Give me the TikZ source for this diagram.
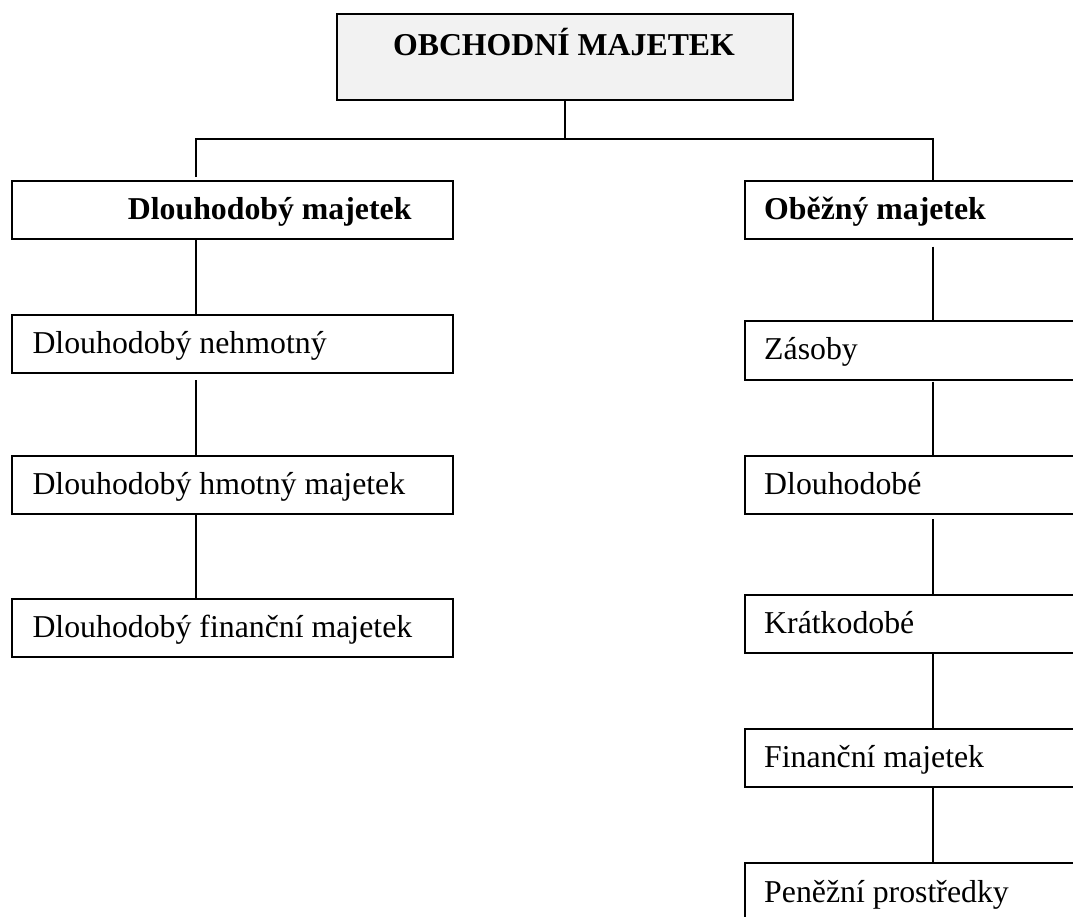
\documentclass[tikz,border=0pt]{standalone}
\usepackage{fontspec}
\setmainfont{Liberation Serif}
\definecolor{topfill}{HTML}{F2F2F2}
\begin{document}
\begin{tikzpicture}[x=1pt,y=-1pt,
  box/.style={draw=black, line width=2pt, rectangle, inner sep=0pt, anchor=north west},
  lbox/.style={box, minimum width=441pt, minimum height=58pt},
  rbox/.style={box, minimum width=420pt, minimum height=58.5pt},
  conn/.style={draw=black, line width=2pt},
  txt/.style={anchor=base west, inner sep=0pt, font=\fontsize{31.8}{38}\selectfont},
  btxt/.style={anchor=base west, inner sep=0pt, font=\fontsize{31.8}{38}\selectfont\bfseries}]
\useasboundingbox (0,0) rectangle (1073,916);
\clip (0,0) rectangle (1073,916);

% top box
\node[box, fill=topfill, minimum width=456pt, minimum height=85.4pt] (top) at (336,13.3) {};
\node[btxt, anchor=base] (toptext) at (564,55) {OBCHODNÍ MAJETEK};

% left column
\node[lbox, minimum height=57.7pt] (b1) at (11,180) {};
\node[btxt] (t1) at (127.7,219.4) {Dlouhodobý majetek};
\node[lbox] (b2) at (11,314) {};
\node[txt] (t2) at (32.3,353.7) {Dlouhodobý nehmotný};
\node[lbox] (b3) at (11,455) {};
\node[txt] (t3) at (32.3,494.7) {Dlouhodobý hmotný majetek};
\node[lbox] (b4) at (11,597.7) {};
\node[txt] (t4) at (32.3,637.4) {Dlouhodobý finanční majetek};

% right column
\node[rbox, minimum height=57.7pt] (r1) at (744,180) {};
\node[btxt] (s1) at (764,219.4) {Oběžný majetek};
\node[rbox] (r2) at (744,320) {};
\node[txt] (s2) at (764,359.7) {Zásoby};
\node[rbox] (r3) at (744,454.5) {};
\node[txt] (s3) at (764,494.2) {Dlouhodobé};
\node[rbox] (r4) at (744,593.5) {};
\node[txt] (s4) at (764,633.3) {Krátkodobé};
\node[rbox] (r5) at (744,727.7) {};
\node[txt] (s5) at (764,767.7) {Finanční majetek};
\node[rbox] (r6) at (744,862.3) {};
\node[txt] (s6) at (764,902) {Peněžní prostředky};

% connectors
\coordinate (hl) at (195.7,138.7);
\coordinate (hr) at (932.7,138.7);
\draw[conn] (top.south) -- (top.south |- hl);
\draw[conn, shorten <=3pt] (hl |- b1.north) -- (hl) -- (hr) -- (hr |- r1.north);

\draw[conn] (hl |- b1.south) -- (hl |- b2.north);
\draw[conn, shorten <=6pt] (hl |- b2.south) -- (hl |- b3.north);
\draw[conn] (hl |- b3.south) -- (hl |- b4.north);

\draw[conn, shorten <=7pt] (hr |- r1.south) -- (hr |- r2.north);
\draw[conn, shorten <=1pt] (hr |- r2.south) -- (hr |- r3.north);
\draw[conn, shorten <=4pt] (hr |- r3.south) -- (hr |- r4.north);
\draw[conn] (hr |- r4.south) -- (hr |- r5.north);
\draw[conn] (hr |- r5.south) -- (hr |- r6.north);
\end{tikzpicture}
\end{document}
